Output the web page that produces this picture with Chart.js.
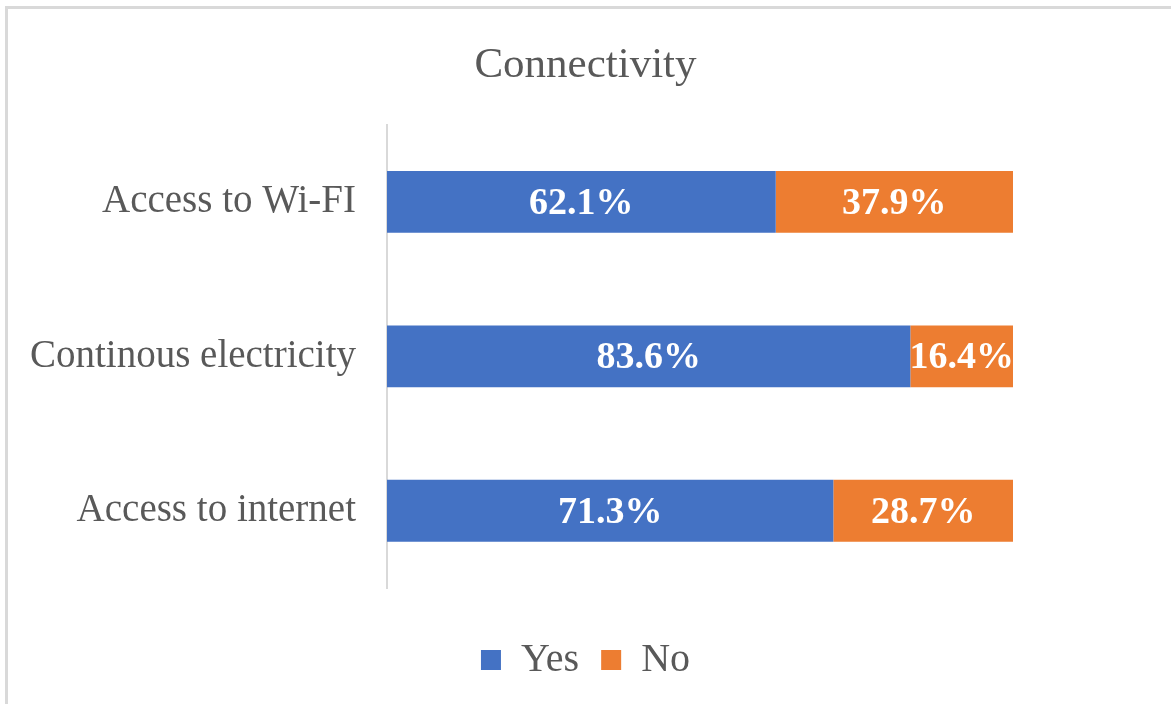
<!DOCTYPE html>
<html>
<head>
<meta charset="utf-8">
<script src="https://cdn.jsdelivr.net/npm/chart.js@4.4.1/dist/chart.umd.min.js"></script>
<style>
    html, body { margin: 0; padding: 0; background: #ffffff; }
    .frame {
        position: absolute; left: 5px; top: 6px; width: 1180px; height: 720px;
        border: 3px solid #d9d9d9; box-sizing: border-box;
    }
    .wrap { position: absolute; left: 0; top: 0; width: 1171px; height: 704px; }
</style>
</head>
<body>
<div class="frame"></div>
<div class="wrap"><canvas id="chart" width="1171" height="704"></canvas></div>
<script>
// chart data
const categories = ["Access to Wi-FI", "Continous electricity", "Access to internet"];
const yesValues = [62.1, 83.6, 71.3];
const noValues = [37.9, 16.4, 28.7];
const seriesNames = ["Yes", "No"];

const serif = "'Liberation Serif', 'Times New Roman', serif";

// draws the percentage labels in the middle of each bar segment
const barLabels = {
    id: 'barLabels',
    afterDatasetsDraw(chart) {
        const ctx = chart.ctx;
        ctx.save();
        ctx.fillStyle = '#ffffff';
        ctx.font = 'bold 38px ' + serif;
        ctx.textAlign = 'center';
        ctx.textBaseline = 'middle';
        chart.data.datasets.forEach((ds, i) => {
            chart.getDatasetMeta(i).data.forEach((bar, j) => {
                const mid = (bar.x + bar.base) / 2;
                ctx.fillText(ds.data[j].toFixed(1) + '%', mid, bar.y + 2);
            });
        });
        ctx.restore();
    }
};

new Chart(document.getElementById('chart'), {
    type: 'bar',
    data: {
        labels: categories,
        datasets: [
            { label: seriesNames[0], data: yesValues, backgroundColor: '#4472c4', borderWidth: 0 },
            { label: seriesNames[1], data: noValues, backgroundColor: '#ed7d31', borderWidth: 0 }
        ]
    },
    options: {
        indexAxis: 'y',
        responsive: false,
        animation: false,
        datasets: { bar: { barPercentage: 0.4, categoryPercentage: 1 } },
        layout: { padding: { left: 0, right: 0, top: 0, bottom: 14 } },
        scales: {
            x: {
                stacked: true, min: 0, max: 100,
                grid: { display: false, drawTicks: false },
                border: { display: false },
                ticks: { display: false },
                afterFit(scale) { scale.height = 30; }
            },
            y: {
                stacked: true,
                grid: { display: false, drawTicks: false },
                border: { color: '#d9d9d9', width: 2 },
                ticks: { color: '#595959', font: { family: serif, size: 39 }, padding: 31 },
                afterFit(scale) { scale.width = 387; }
            },
            // empty right axis keeps the gap right of the bars
            yRight: {
                position: 'right',
                grid: { display: false, drawTicks: false },
                border: { display: false },
                ticks: { display: false },
                afterFit(scale) { scale.width = 158; }
            }
        },
        plugins: {
            title: {
                display: true,
                text: 'Connectivity',
                color: '#595959',
                font: { family: serif, size: 43, weight: 'normal' },
                padding: { top: 40, bottom: 33 }
            },
            legend: {
                position: 'bottom',
                labels: {
                    color: '#595959',
                    font: { family: serif, size: 40 },
                    boxWidth: 20, boxHeight: 20, padding: 22
                }
            },
            tooltip: { enabled: false }
        }
    },
    plugins: [barLabels]
});
</script>
</body>
</html>
